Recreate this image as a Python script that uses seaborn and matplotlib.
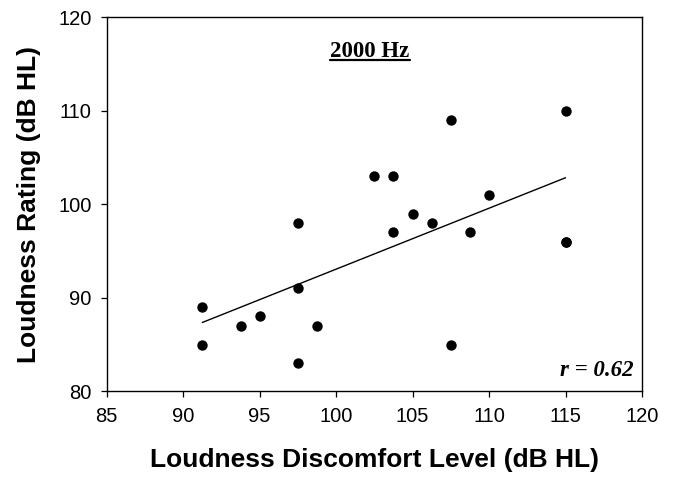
import matplotlib
matplotlib.use('Agg')
import matplotlib.pyplot as plt
import seaborn as sns
import pandas as pd
from matplotlib.lines import Line2D

# Data (one participant duplicated at 115/96)
ldl = [91.25, 91.25, 93.75, 95.0, 97.5, 97.5, 97.5, 98.75, 102.5, 103.75,
       103.75, 105.0, 106.25, 107.5, 107.5, 108.75, 110.0, 115.0, 115.0, 115.0]
rating = [89, 85, 87, 88, 98, 91, 83, 87, 103, 103,
          97, 99, 98, 109, 85, 97, 101, 110, 96, 96]
x_ticks = [85, 90, 95, 100, 105, 110, 115, 120]
y_ticks = [80, 90, 100, 110, 120]
title_text = "2000 Hz"
r_text = "r = 0.62"
xlabel = "Loudness Discomfort Level (dB HL)"
ylabel = "Loudness Rating (dB HL)"

df = pd.DataFrame({"LDL": ldl, "Rating": rating})

sns.set_style("ticks")
plt.rcParams["font.family"] = ["Liberation Sans", "DejaVu Sans"]
plt.rcParams["text.color"] = "black"
plt.rcParams["axes.labelcolor"] = "black"
plt.rcParams["xtick.color"] = "black"
plt.rcParams["ytick.color"] = "black"

fig = plt.figure(figsize=(6.78, 4.79), dpi=100)
ax = fig.add_axes([0.1574, 0.1831, 0.7895, 0.7808])

sns.regplot(data=df, x="LDL", y="Rating", ci=None, ax=ax,
            scatter_kws=dict(s=56, color="black", linewidths=0, alpha=1),
            line_kws=dict(color="black", lw=1.0))

ax.set_xlim(85, 120)
ax.set_ylim(80, 120)
ax.set_xticks(x_ticks)
ax.set_yticks(y_ticks)
ax.tick_params(direction="out", length=4, width=0.9, labelsize=14.5,
               colors="black", labelcolor="black", pad=7)
for sp in ax.spines.values():
    sp.set_visible(True)
    sp.set_color("black")
    sp.set_linewidth(1.0)

ax.set_xlabel(xlabel, fontsize=19, fontweight="bold", va="center", color="black")
ax.set_ylabel(ylabel, fontsize=19, fontweight="bold", va="center", color="black")
ax.xaxis.set_label_coords(0.5, -0.184)
ax.yaxis.set_label_coords(-0.145, 0.5)

t = ax.text(0.492, 0.893, title_text, transform=ax.transAxes, ha="center",
            va="baseline", fontsize=16.5, fontweight="bold", color="black",
            family=["Liberation Serif", "DejaVu Serif"])
ax.text(0.985, 0.0417, r_text, transform=ax.transAxes, ha="right",
        va="baseline", fontsize=16.5, fontweight="bold", fontstyle="italic",
        color="black", family=["Liberation Serif", "DejaVu Serif"])

fig.canvas.draw()
bb = t.get_window_extent(fig.canvas.get_renderer())
inv = ax.transAxes.inverted()
(ux0, _), (ux1, _) = inv.transform([[bb.x0, bb.y0], [bb.x1, bb.y1]])
ax.add_line(Line2D([ux0, ux1], [0.887, 0.887], transform=ax.transAxes,
                   color="black", lw=1.6, clip_on=False))

fig.savefig("out.png", dpi=100)
